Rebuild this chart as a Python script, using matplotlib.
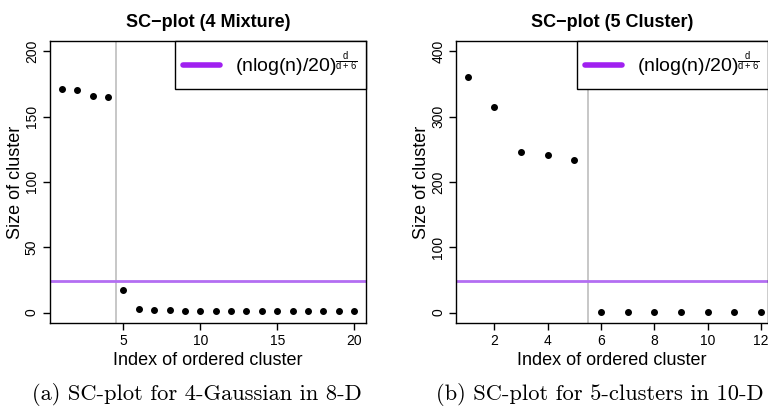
import matplotlib
matplotlib.use('Agg')
import matplotlib.pyplot as plt

plt.rcParams['font.family'] = ['Liberation Sans', 'DejaVu Sans']
plt.rcParams['mathtext.fontset'] = 'custom'
plt.rcParams['mathtext.rm'] = 'Liberation Sans'
plt.rcParams['mathtext.it'] = 'Liberation Sans'
plt.rcParams['mathtext.default'] = 'regular'

# panel (a): 4 mixture, 8-D
idx_a = list(range(1, 21))
size_a = [171, 170, 166, 165, 17, 3, 2, 2, 1, 1, 1, 1, 1, 1, 1, 1, 1, 1, 1, 1]
thresh_a = 24.5
cut_a = 4.5
xticks_a = [5, 10, 15, 20]
yticks_a = [0, 50, 100, 150, 200]

# panel (b): 5 cluster, 10-D
idx_b = list(range(1, 13))
size_b = [360, 314, 245, 241, 233, 1, 1, 1, 1, 1, 1, 1]
thresh_b = 49
cut_b = 5.5
xticks_b = [2, 4, 6, 8, 10, 12]
yticks_b = [0, 100, 200, 300, 400]

legend_label = r'$(nlog(n)/20)^{\frac{d}{d+6}}$'
W, H = 768, 408


def px_axes(fig, left, right, top, bottom):
    return fig.add_axes([left / W, (H - bottom) / H, (right - left) / W, (bottom - top) / H])


def sc_panel(ax, idx, size, thresh, cut, xticks, yticks, xlim, ylim, title):
    ax.axvline(cut, color='#bebebe', lw=1.2, zorder=1)
    ax.axhline(thresh, color='#b36ef2', lw=2, zorder=1)
    ax.plot(idx, size, 'o', color='black', ms=4, zorder=3)
    ax.set_xlim(*xlim)
    ax.set_ylim(*ylim)
    ax.set_xticks(xticks)
    ax.set_yticks(yticks)
    ax.set_yticklabels([str(v) for v in yticks], rotation=90, va='center')
    ax.tick_params(labelsize=10, length=5, width=1, pad=3)
    for s in ax.spines.values():
        s.set_linewidth(1)
    ax.set_xlabel('Index of ordered cluster', fontsize=13, labelpad=3)
    ax.set_title(title, fontsize=13, fontweight='bold', pad=10)
    h, = ax.plot([], [], color='#a020f0', lw=4, solid_capstyle='round')
    leg = ax.legend([h], [legend_label], loc='upper right', fontsize=14,
                    frameon=True, fancybox=False, edgecolor='black', framealpha=1,
                    borderaxespad=0, handlelength=1.9, handletextpad=0.75,
                    borderpad=0.45)
    leg.get_frame().set_linewidth(1)


fig = plt.figure(figsize=(7.68, 4.08), dpi=100)

ax1 = px_axes(fig, 50, 366, 40.7, 323)
sc_panel(ax1, idx_a, size_a, thresh_a, cut_a, xticks_a, yticks_a,
         (0.24, 20.76), (-8, 208), 'SC\u2212plot (4 Mixture)')
ax2 = px_axes(fig, 456.3, 768, 40.7, 323)
sc_panel(ax2, idx_b, size_b, thresh_b, cut_b, xticks_b, yticks_b,
         (0.573, 12.27), (-16, 416), 'SC\u2212plot (5 Cluster)')

fig.text(16 / W, 1 - 182 / H, 'Size of cluster', rotation=90, fontsize=13,
         ha='center', va='center')
fig.text(422 / W, 1 - 182 / H, 'Size of cluster', rotation=90, fontsize=13,
         ha='center', va='center')

fig.text(197 / W, 1 - 395 / H, '(a) SC-plot for 4-Gaussian in 8-D',
         family='cmr10', fontsize=16.2, ha='center', va='center')
fig.text(600 / W, 1 - 395 / H, '(b) SC-plot for 5-clusters in 10-D',
         family='cmr10', fontsize=16.2, ha='center', va='center')

fig.savefig('out.png', dpi=100)
